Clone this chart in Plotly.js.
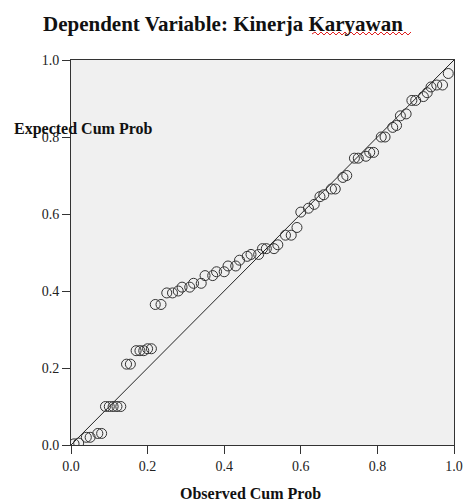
<!DOCTYPE html>
<html>
<head>
<meta charset="utf-8">
<script src="https://cdn.plot.ly/plotly-3.0.1.min.js"></script>
<style>html,body{margin:0;padding:0;background:#fff;}#chart{width:463px;height:503px;}</style>
</head>
<body>
<div id="chart"></div>
<script>
const chartTitle = "Dependent Variable: Kinerja Karyawan";
const xTitle = "Observed Cum Prob";
const yTitle = "Expected Cum Prob";
const tickVals = [0, 0.2, 0.4, 0.6, 0.8, 1.0];
const tickText = ["0.0", "0.2", "0.4", "0.6", "0.8", "1.0"];
const refLineX = [0, 1];
const refLineY = [0, 1];
const observed = [0.008,0.02,0.04,0.05,0.07,0.08,0.09,0.10,0.11,0.12,0.13,0.145,0.155,0.17,0.18,0.19,0.20,0.21,
  0.22,0.235,0.25,0.265,0.28,0.29,0.31,0.32,0.34,0.35,0.37,0.38,0.40,0.41,0.43,0.44,0.46,0.47,0.49,0.50,0.51,0.53,
  0.54,0.56,0.575,0.59,0.60,0.62,0.635,0.65,0.66,0.68,0.69,0.71,0.72,0.74,0.75,0.77,0.78,0.79,0.81,0.82,0.84,0.85,
  0.86,0.875,0.89,0.90,0.92,0.93,0.94,0.955,0.97,0.985];
const expected = [0.003,0.005,0.02,0.02,0.03,0.03,0.10,0.10,0.10,0.10,0.10,0.21,0.21,0.245,0.245,0.245,0.25,0.25,
  0.365,0.365,0.395,0.395,0.40,0.41,0.41,0.42,0.42,0.44,0.44,0.45,0.45,0.465,0.465,0.48,0.49,0.495,0.495,0.51,0.51,0.51,
  0.52,0.545,0.545,0.565,0.605,0.615,0.625,0.645,0.65,0.665,0.665,0.695,0.70,0.745,0.745,0.75,0.76,0.76,0.80,0.80,0.825,0.83,
  0.855,0.86,0.895,0.895,0.905,0.915,0.93,0.935,0.935,0.965];

const serif = "'Liberation Serif', 'Times New Roman', serif";
const W = 463, H = 503, L = 71, R = 9, T = 60, B = 58;
const pw = W - L - R, ph = H - T - B;
const px = v => (v - L) / pw;
const py = v => (H - B - v) / ph;

// red wavy spell-check underline under "Karyawan"
let wave = "M" + px(312) + "," + py(34);
let up = true;
for (let x = 312; x < 410; x += 3) {
  wave += " L" + px(x + 3) + "," + py(up ? 32 : 35);
  up = !up;
}

const data = [
  {x: refLineX, y: refLineY, type: "scatter", mode: "lines",
   line: {color: "#222", width: 1}, hoverinfo: "skip", showlegend: false},
  {x: observed, y: expected, type: "scatter", mode: "markers",
   marker: {symbol: "circle-open", size: 10, color: "#333", line: {width: 1, color: "#333"}},
   showlegend: false}
];

const axisCommon = {
  range: [0, 1], tickvals: tickVals, ticktext: tickText, ticks: "outside", ticklen: 8,
  tickcolor: "#333", tickwidth: 1, showgrid: false, zeroline: false, showline: true,
  linecolor: "#333", linewidth: 1, mirror: true,
  tickfont: {family: serif, size: 14, color: "#222"}
};

const layout = {
  width: W, height: H,
  margin: {l: L, r: R, t: T, b: B},
  paper_bgcolor: "#fff", plot_bgcolor: "#f0f0f0",
  xaxis: Object.assign({}, axisCommon),
  yaxis: Object.assign({}, axisCommon),
  annotations: [
    {text: "<b>" + chartTitle + "</b>", xref: "paper", yref: "paper",
     x: px(223), y: py(24), xanchor: "center", yanchor: "middle", showarrow: false,
     font: {family: serif, size: 21, color: "#111"}},
    {text: "<b>" + xTitle + "</b>", xref: "paper", yref: "paper",
     x: px(250), y: py(493), xanchor: "center", yanchor: "middle", showarrow: false,
     font: {family: serif, size: 16, color: "#111"}},
    {text: "<b>" + yTitle + "</b>", xref: "paper", yref: "paper",
     x: px(12), y: py(129), xanchor: "left", yanchor: "middle", showarrow: false,
     font: {family: serif, size: 16, color: "#111"}}
  ],
  shapes: [
    {type: "path", xref: "paper", yref: "paper", path: wave, line: {color: "#e02020", width: 1}}
  ]
};

Plotly.newPlot("chart", data, layout, {displayModeBar: false, staticPlot: true});
</script>
</body>
</html>
